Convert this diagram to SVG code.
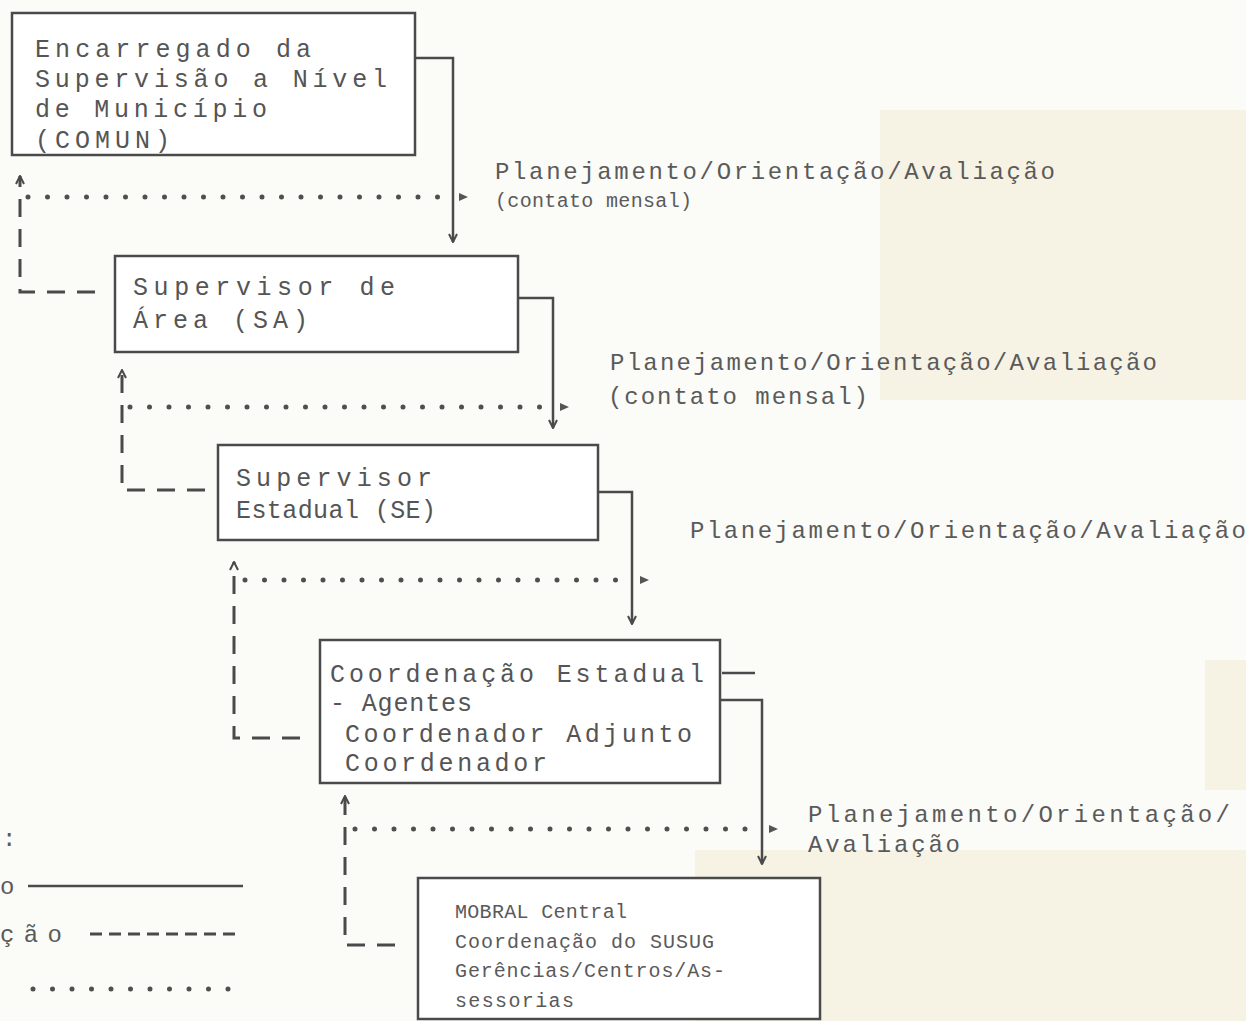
<svg xmlns="http://www.w3.org/2000/svg" width="1246" height="1021" viewBox="0 0 1246 1021">
<style>
  .bg { fill: #fbfbf8; }
  .patch { fill: #f6f2e4; }
  .box { fill: #ffffff; stroke: #4a4a4a; stroke-width: 2.5; }
  .t { font-family: "Liberation Mono", "DejaVu Sans Mono", monospace; fill: #555555; font-size: 25px; }
  .ts { font-family: "Liberation Mono", "DejaVu Sans Mono", monospace; fill: #5a5a5a; font-size: 20px; }
  .lbl { font-family: "Liberation Mono", "DejaVu Sans Mono", monospace; fill: #5a5a5a; font-size: 24px; }
  .lbs { font-family: "Liberation Mono", "DejaVu Sans Mono", monospace; fill: #5a5a5a; font-size: 20px; }
  .solid { fill: none; stroke: #4a4a4a; stroke-width: 2.5; }
  .dash { fill: none; stroke: #4a4a4a; stroke-width: 3; stroke-dasharray: 18 12; }
  .dot { fill: none; stroke: #4f4f4f; stroke-width: 5; stroke-linecap: round; stroke-dasharray: 0 19.5; }
  .head { fill: #555555; stroke: none; }
</style>
<defs>
  <marker id="tip" viewBox="0 0 10 10" refX="9" refY="5" markerWidth="10" markerHeight="10" markerUnits="userSpaceOnUse" orient="auto">
    <path d="M1,1 L9,5 L1,9" fill="none" stroke="#4a4a4a" stroke-width="2"/>
  </marker>
</defs>
<rect class="bg" x="0" y="0" width="1246" height="1021"/>
<rect class="patch" x="880" y="110" width="366" height="290"/>
<rect class="patch" x="695" y="850" width="551" height="171"/>
<rect class="patch" x="1205" y="660" width="41" height="130"/>

<g id="connectors">
  <!-- solid hierarchical lines -->
  <path class="solid" d="M415,58 H453 V242" marker-end="url(#tip)"/>
  <path class="solid" d="M518,298 H553 V428" marker-end="url(#tip)"/>
  <path class="solid" d="M598,492 H632 V624" marker-end="url(#tip)"/>
  <path class="solid" d="M720,700 H762 V864" marker-end="url(#tip)"/>
  <path class="solid" d="M722,673 H755"/>
  <!-- dashed feedback lines -->
  <path class="dash" d="M95,292 H20 V176" marker-end="url(#tip)"/>
  <path class="dash" d="M205,490 H122 V370" marker-end="url(#tip)"/>
  <path class="dash" d="M300,738 H234 V562" marker-end="url(#tip)"/>
  <path class="dash" d="M395,945 H345 V796" marker-end="url(#tip)"/>
  <!-- dotted lines -->
  <path class="dot" d="M28,197 H442"/>
  <path class="dot" d="M130,407 H545"/>
  <path class="dot" d="M245,580 H625"/>
  <path class="dot" d="M355,829 H755"/>
  <polygon class="head" points="459,193 468,197 459,201"/>
  <polygon class="head" points="560,403 569,407 560,411"/>
  <polygon class="head" points="640,576 649,580 640,584"/>
  <polygon class="head" points="769,825 778,829 769,833"/>
  <!-- legend -->
  <path class="solid" d="M28,886 H243"/>
  <path fill="none" stroke="#4a4a4a" stroke-width="3" stroke-dasharray="12 7" d="M90,934 H242"/>
  <path class="dot" stroke-width="4" d="M33,989 H235"/>
</g>

<g id="n1">
  <rect class="box" x="12" y="13" width="403" height="142"/>
  <text class="t" x="35" y="57" textLength="276" lengthAdjust="spacing">Encarregado da</text>
  <text class="t" x="35" y="87" textLength="352" lengthAdjust="spacing">Supervisão a Nível</text>
  <text class="t" x="35" y="117" textLength="232" lengthAdjust="spacing">de Município</text>
  <text class="t" x="35" y="148" textLength="135" lengthAdjust="spacing">(COMUN)</text>
</g>

<g id="n2">
  <rect class="box" x="115" y="256" width="403" height="96"/>
  <text class="t" x="133" y="295" textLength="262" lengthAdjust="spacing">Supervisor de</text>
  <text class="t" x="133" y="328" textLength="175" lengthAdjust="spacing">Área (SA)</text>
</g>

<g id="n3">
  <rect class="box" x="218" y="445" width="380" height="95"/>
  <text class="t" x="236" y="486" textLength="196" lengthAdjust="spacing">Supervisor</text>
  <text class="t" x="236" y="518" textLength="200" lengthAdjust="spacing">Estadual (SE)</text>
</g>

<g id="n4">
  <rect class="box" x="320" y="640" width="400" height="143"/>
  <text class="t" x="330" y="682" textLength="374" lengthAdjust="spacing">Coordenação Estadual</text>
  <text class="t" x="330" y="711" textLength="142" lengthAdjust="spacing">- Agentes</text>
  <text class="t" x="345" y="742" textLength="347" lengthAdjust="spacing">Coordenador Adjunto</text>
  <text class="t" x="345" y="771" textLength="202" lengthAdjust="spacing">Coordenador</text>
</g>

<g id="n5">
  <rect class="box" x="418" y="878" width="402" height="141"/>
  <text class="ts" x="455" y="918" textLength="172" lengthAdjust="spacing">MOBRAL Central</text>
  <text class="ts" x="455" y="948" textLength="259" lengthAdjust="spacing">Coordenação do SUSUG</text>
  <text class="ts" x="455" y="977" textLength="270" lengthAdjust="spacing">Gerências/Centros/As-</text>
  <text class="ts" x="455" y="1007" textLength="119" lengthAdjust="spacing">sessorias</text>
</g>

<g id="labels">
  <text class="lbl" x="495" y="179" textLength="560" lengthAdjust="spacing">Planejamento/Orientação/Avaliação</text>
  <text class="lbs" x="495" y="207" textLength="197" lengthAdjust="spacing">(contato mensal)</text>
  <text class="lbl" x="610" y="370" textLength="547" lengthAdjust="spacing">Planejamento/Orientação/Avaliação</text>
  <text class="lbl" x="608" y="404" textLength="260" lengthAdjust="spacing">(contato mensal)</text>
  <text class="lbl" x="690" y="538" textLength="556" lengthAdjust="spacing">Planejamento/Orientação/Avaliação</text>
  <text class="lbl" x="808" y="822" textLength="422" lengthAdjust="spacing">Planejamento/Orientação/</text>
  <text class="lbl" x="808" y="852" textLength="152" lengthAdjust="spacing">Avaliação</text>
</g>

<g id="legend">
  <text class="lbl" x="2" y="846">:</text>
  <text class="lbl" x="0" y="894">o</text>
  <text class="lbl" x="0" y="942" textLength="62" lengthAdjust="spacing">ção</text>
</g>
</svg>
